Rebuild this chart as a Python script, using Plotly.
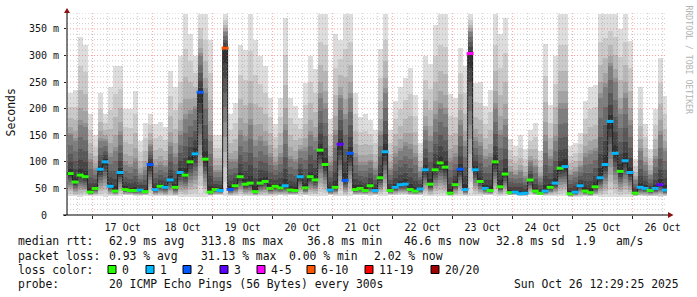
import plotly.graph_objects as go
import pandas as pd

# ---------------- data ----------------
bin_start = "2025-10-16 14:00"   # 2-hour consolidation steps
step_hours = 2

median_ms = [78, 62, 75, 72, 43, 50, 86, 100, 54, 45,
             80, 48, 46, 46, 47, 44, 95, 48, 54, 52,
             66, 52, 80, 75, 100, 115, 231, 105, 43, 48,
             46, 314, 48, 55, 72, 58, 60, 44, 60, 63,
             50, 54, 51, 55, 47, 46, 72, 51, 72, 66,
             122, 95, 47, 52, 133, 65, 116, 48, 50, 46,
             55, 46, 70, 119, 46, 52, 57, 58, 48, 45,
             49, 85, 58, 85, 98, 90, 41, 57, 86, 48,
             304, 85, 63, 50, 46, 100, 53, 77, 42, 43,
             40, 41, 66, 45, 41, 45, 52, 60, 88, 91,
             40, 43, 55, 45, 42, 53, 70, 95, 176, 116,
             82, 102, 80, 41, 52, 50, 46, 50, 57, 47]

loss_count = [0, 0, 0, 0, 0, 0, 1, 1, 1, 0,
              1, 0, 0, 0, 1, 0, 2, 1, 0, 1,
              1, 0, 1, 0, 0, 1, 2, 0, 0, 0,
              1, 7, 2, 0, 0, 0, 0, 0, 0, 0,
              0, 0, 0, 1, 0, 0, 1, 0, 0, 0,
              0, 0, 1, 0, 3, 2, 2, 0, 0, 0,
              0, 1, 0, 1, 0, 1, 1, 1, 0, 0,
              1, 1, 0, 0, 0, 0, 0, 0, 2, 1,
              4, 1, 0, 1, 0, 0, 0, 0, 0, 1,
              1, 1, 0, 0, 0, 1, 0, 1, 0, 1,
              0, 1, 1, 0, 0, 0, 1, 1, 1, 1,
              0, 1, 1, 0, 1, 1, 0, 1, 3, 1]

ping_max = [230, 235, 335, 320, 190, 150, 230, 190, 240, 280,
            281, 200, 200, 234, 140, 174, 190, 171, 175, 165,
            270, 240, 300, 378, 340, 300, 378, 378, 330, 150,
            150, 378, 190, 210, 320, 310, 378, 330, 300, 280,
            221, 171, 221, 371, 220, 205, 183, 249, 300, 275,
            378, 378, 180, 340, 330, 378, 378, 230, 185, 190,
            178, 160, 312, 378, 159, 215, 240, 258, 277, 225,
            135, 300, 284, 358, 378, 378, 228, 220, 315, 280,
            378, 249, 250, 205, 235, 378, 340, 371, 143, 130,
            150, 124, 160, 174, 120, 321, 206, 300, 378, 378,
            130, 135, 155, 215, 240, 244, 378, 378, 378, 378,
            350, 378, 328, 105, 240, 171, 124, 200, 296, 224]

ping_p75 = [150, 140, 170, 165, 100, 85, 140, 140, 110, 120,
            150, 95, 90, 100, 75, 85, 130, 90, 95, 90,
            130, 110, 150, 180, 190, 200, 300, 230, 140, 80,
            80, 345, 100, 100, 150, 140, 170, 130, 140, 130,
            110, 95, 110, 160, 105, 100, 120, 120, 150, 140,
            220, 200, 95, 150, 220, 180, 220, 110, 95, 95,
            100, 85, 150, 230, 85, 110, 120, 130, 125, 110,
            80, 160, 140, 180, 200, 190, 100, 110, 170, 130,
            345, 140, 130, 105, 110, 200, 150, 170, 80, 75,
            80, 70, 100, 90, 70, 140, 105, 140, 200, 200,
            75, 80, 90, 110, 115, 120, 220, 240, 280, 250,
            190, 220, 170, 65, 120, 95, 75, 105, 150, 120]

ping_min = [36, 35, 34, 35, 36, 36, 35, 34, 35, 36,
            36, 37, 37, 36, 36, 37, 35, 36, 36, 35,
            35, 35, 34, 34, 33, 33, 34, 34, 36, 37,
            37, 35, 36, 36, 35, 35, 35, 36, 35, 35,
            36, 36, 37, 36, 37, 37, 36, 37, 36, 36,
            35, 35, 37, 36, 35, 35, 35, 37, 37, 37,
            36, 37, 36, 35, 37, 37, 37, 37, 37, 37,
            37, 36, 36, 35, 35, 35, 36, 36, 35, 36,
            35, 35, 36, 37, 37, 35, 36, 36, 37, 37,
            36, 36, 37, 37, 37, 36, 36, 36, 35, 35,
            34, 34, 34, 35, 35, 35, 34, 33, 33, 33,
            33, 33, 34, 35, 35, 35, 35, 35, 34, 35]

loss_labels = ["0", "1", "2", "3", "4-5", "6-10", "11-19", "20/20"]
loss_upper = [0, 1, 2, 3, 5, 10, 19, 20]
loss_colors = ["#26ff00", "#00b8ff", "#0059ff", "#5e00ff",
               "#ff00ff", "#ff5500", "#ff0000", "#a10000"]

y_tick_vals = [0, 50, 100, 150, 200, 250, 300, 350]
y_tick_text = ["0  ", "50 m", "100 m", "150 m", "200 m", "250 m", "300 m", "350 m"]

# legend rows: (text, left pixel)
rtt_row = [("median rtt:", 16), ("62.9 ms avg", 107), ("313.8 ms max", 199),
           ("36.8 ms min", 305), ("46.6 ms now", 402), ("32.8 ms sd", 494),
           ("1.9", 573), ("am/s", 614)]
loss_row = [("packet loss:", 16), ("0.93 % avg", 107), ("31.13 % max", 199),
            ("0.00 % min", 287), ("2.02 % now", 372)]
probe_row = [("probe:", 16), ("20 ICMP Echo Pings (56 Bytes) every 300s", 107)]
stamp_text = "Sun Oct 26 12:29:25 2025"

x_range = ["2025-10-16 13:45", "2025-10-26 13:45"]
y_range = [0, 380]

# ---------------- figure ----------------
n = len(median_ms)
edges = pd.date_range(bin_start, periods=n + 1, freq=f"{step_hours}h")
centers = edges[:-1] + pd.Timedelta(hours=step_hours / 2)
bar_w = step_hours * 3600 * 1000 * 1.02

W, H = 697, 297
L, R, T, B = 67, 30, 13, 82
PW, PH = W - L - R, H - T - B


def px(xp):
    return (xp - L) / PW


def py(yp):
    return (H - B - yp) / PH


def nb(s):
    return s.replace(" ", "\u00a0")


fig = go.Figure()

# smoke bands (outermost/lightest first)
K = 10
for k in range(K, 0, -1):
    upper, lower = [], []
    for m, p, h, lo in zip(median_ms, ping_p75, ping_max, ping_min):
        if k <= 5:
            u = m + (p - m) * (k / 5) ** 1.3
        else:
            u = p + (h - p) * ((k - 5) / 5) ** 1.8
        lower.append(m - (m - lo) * k / K)
        upper.append(u)
    shade = 50 + 19 * (k - 1)
    fig.add_trace(go.Bar(
        x=centers, y=[u - l for u, l in zip(upper, lower)], base=lower,
        width=bar_w, marker=dict(color=f"rgb({shade},{shade},{shade})", line=dict(width=0)),
        hoverinfo="skip"))

# median line (dark step line)
fig.add_trace(go.Scatter(
    x=list(edges), y=median_ms + [median_ms[-1]], mode="lines",
    line=dict(color="#202020", width=1, shape="hv"), hoverinfo="skip"))


def loss_color(c):
    for up, col in zip(loss_upper, loss_colors):
        if c <= up:
            return col
    return loss_colors[-1]


fig.add_trace(go.Scatter(
    x=centers, y=median_ms, mode="markers",
    marker=dict(symbol="line-ew", size=5,
                line=dict(width=3, color=[loss_color(c) for c in loss_count])),
    hoverinfo="skip"))

# grid in front of the smoke
minor_grid = "rgba(140,140,140,0.45)"
major_grid = "rgba(255,0,0,0.38)"
for v in range(10, y_range[1] + 1, 10):
    fig.add_shape(type="line", xref="paper", yref="y", x0=0, x1=1, y0=v, y1=v,
                  line=dict(color=major_grid if v % 50 == 0 else minor_grid, width=1,
                            dash="1px,2px"), layer="above")
for t in pd.date_range("2025-10-16 18:00", "2025-10-26 12:00", freq="6h"):
    fig.add_shape(type="line", xref="x", yref="paper", x0=t, x1=t, y0=0, y1=1,
                  line=dict(color=major_grid if t.hour == 0 else minor_grid, width=1,
                            dash="1px,2px"), layer="above")

# axes lines and arrows
axis_red = "#8b1010"
fig.add_shape(type="line", xref="paper", yref="paper", x0=px(67), x1=px(67),
              y0=py(215), y1=py(11), line=dict(color="black", width=1), layer="above")
fig.add_shape(type="line", xref="paper", yref="paper", x0=px(63), x1=px(670),
              y0=py(215), y1=py(215), line=dict(color="black", width=1), layer="above")
fig.add_shape(type="path", xref="paper", yref="paper",
              path=f"M {px(64)} {py(13)} L {px(70)} {py(13)} L {px(67)} {py(8)} Z",
              fillcolor=axis_red, line=dict(color=axis_red, width=0), layer="above")
fig.add_shape(type="path", xref="paper", yref="paper",
              path=f"M {px(668)} {py(212)} L {px(668)} {py(218)} L {px(673.5)} {py(215)} Z",
              fillcolor=axis_red, line=dict(color=axis_red, width=0), layer="above")

mono = "DejaVu Sans Mono"
tick_font = dict(family=mono, size=10, color="#111")
fig.update_layout(
    width=W, height=H, margin=dict(l=L, r=R, t=T, b=B),
    paper_bgcolor="white", plot_bgcolor="white",
    barmode="overlay", bargap=0, showlegend=False,
    xaxis=dict(type="date", range=x_range, showgrid=False, zeroline=False, showline=False,
               tick0="2025-10-17", dtick=86400000, ticklabelmode="period",
               tickformat="%d %b", ticks="outside", ticklen=3, tickcolor="#222",
               tickfont=tick_font),
    yaxis=dict(range=y_range, showgrid=False, zeroline=False, showline=False,
               tickvals=y_tick_vals, showticklabels=False,
               ticks="outside", ticklen=2, tickcolor="#222"),
)

# y tick labels (right-aligned like rrdtool)
for v, lab in zip(y_tick_vals, y_tick_text):
    fig.add_annotation(text=nb(lab), x=px(61), y=v, xref="paper", yref="y",
                       xanchor="right", yanchor="middle", showarrow=False, font=tick_font)

legend_font = dict(family=mono, size=11.4, color="#111")
rows_y = [241, 255.5, 269.5, 284]


def add_text(text, xpix, ypix, anchor="left"):
    fig.add_annotation(text=nb(text), x=px(xpix), y=py(ypix), xref="paper", yref="paper",
                       xanchor=anchor, yanchor="middle", showarrow=False, font=legend_font)


for txt, xp in rtt_row:
    add_text(txt, xp, rows_y[0])
for txt, xp in loss_row:
    add_text(txt, xp, rows_y[1])
add_text("loss color:", 16, rows_y[2])
for txt, xp in probe_row:
    add_text(txt, xp, rows_y[3])
add_text(stamp_text, 681, rows_y[3], anchor="right")

box_x = [108, 146, 183, 220, 257, 307, 365, 431]
for bx, lab, col in zip(box_x, loss_labels, loss_colors):
    fig.add_shape(type="rect", xref="paper", yref="paper",
                  x0=px(bx), x1=px(bx + 8), y0=py(rows_y[2] + 4), y1=py(rows_y[2] - 4),
                  fillcolor=col, line=dict(color="black", width=1))
    add_text(lab, bx + 12, rows_y[2])

fig.add_annotation(text="Seconds", x=px(10.5), y=py(113), xref="paper", yref="paper",
                   textangle=-90, showarrow=False, xanchor="center", yanchor="middle",
                   font=dict(family=mono, size=11.5, color="#111"))
fig.add_annotation(text=nb("RRDTOOL / TOBI OETIKER"), x=px(688.5), y=py(60), xref="paper",
                   yref="paper", textangle=90, showarrow=False, xanchor="center",
                   yanchor="middle", font=dict(family=mono, size=8.2, color="#b4b4b4"))

fig.write_html("out.html")
